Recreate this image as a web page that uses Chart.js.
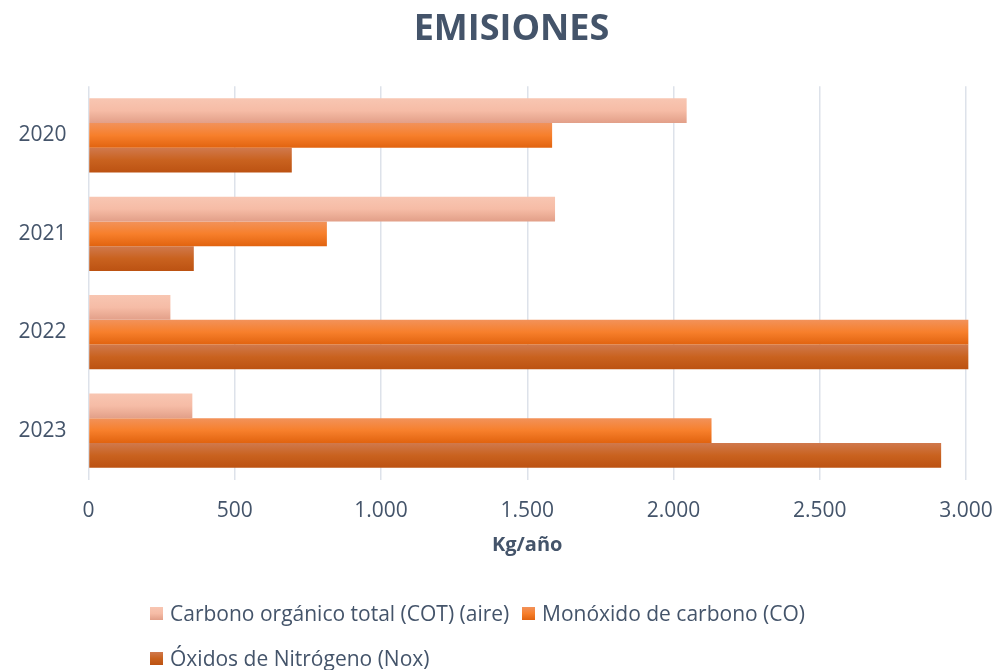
<!DOCTYPE html>
<html>
<head>
<meta charset="utf-8">
<script src="https://cdn.jsdelivr.net/npm/chart.js@4.4.1/dist/chart.umd.min.js"></script>
<style>
  html, body { margin: 0; padding: 0; background: #fff; }
  #wrap { position: relative; width: 996px; height: 670px; }
  #c { position: absolute; left: 0; top: 0; }
  #legend { position: absolute; left: 0; top: 0; width: 996px; height: 670px; pointer-events: none;
            font-family: "Open Sans", sans-serif; font-size: 21px; color: #44546A; }
  .item { position: absolute; display: flex; align-items: center; white-space: nowrap; line-height: 24px; }
  .box { width: 13px; height: 13px; margin-right: 7px; }
</style>
</head>
<body>
<div id="wrap">
  <canvas id="c" width="996" height="670"></canvas>
  <div id="legend"></div>
</div>
<script>
const categories = ["2020", "2021", "2022", "2023"];
const seriesNames = ["Carbono orgánico total (COT) (aire)", "Monóxido de carbono (CO)", "Óxidos de Nitrógeno (Nox)"];
const cotValues = [2045, 1595, 280, 355];
const coValues = [1585, 815, 3008, 2130];
const noxValues = [695, 360, 3008, 2915];
const xTicks = [0, 500, 1000, 1500, 2000, 2500, 3000];

const gradStops = [
  ["#F8C6B2", "#F6BCA6", "#E29F88"],
  ["#F2925A", "#F77F2B", "#E1630F"],
  ["#D0794D", "#C9621F", "#BC5212"]
];
const TEXT = "#44546A";

const gradientPlugin = {
  id: "barGradient",
  afterLayout(chart) {
    if (chart.titleBlock) {
      chart.titleBlock.left += 20;
      chart.titleBlock.right += 20;
    }
  },
  beforeDatasetDraw(chart, args) {
    const ctx = chart.ctx;
    const stops = gradStops[args.index];
    args.meta.data.forEach(el => {
      const p = el.getProps(["y", "height"], true);
      const top = p.y - p.height / 2;
      const g = ctx.createLinearGradient(0, top, 0, top + p.height);
      g.addColorStop(0, stops[0]);
      g.addColorStop(0.5, stops[1]);
      g.addColorStop(1, stops[2]);
      el.options = Object.assign({}, el.options, { backgroundColor: g });
    });
  }
};

function fmt(v) { return String(v).replace(/\B(?=(\d{3})+(?!\d))/g, "."); }

const seriesValues = [cotValues, coValues, noxValues];

new Chart(document.getElementById("c"), {
  type: "bar",
  data: {
    labels: categories,
    datasets: seriesValues.map((vals, i) => ({
      label: seriesNames[i],
      data: vals,
      backgroundColor: gradStops[i][1],
      borderWidth: 0,
      barPercentage: 1.0,
      categoryPercentage: 0.755,
      clip: false
    }))
  },
  options: {
    indexAxis: "y",
    responsive: false,
    animation: false,
    layout: { padding: { left: 17, right: 30, top: 0, bottom: 113 } },
    plugins: {
      legend: { display: false },
      tooltip: { enabled: false },
      title: {
        display: true,
        text: "EMISIONES",
        color: TEXT,
        font: { family: "Open Sans", size: 36, weight: "bold" },
        padding: { top: 8, bottom: 35 }
      }
    },
    scales: {
      x: {
        min: 0, max: 3000,
        afterBuildTicks(scale) { scale.ticks = xTicks.map(v => ({ value: v })); },
        afterFit(scale) { scale.paddingRight = 0; scale.paddingLeft = 0; },
        ticks: {
          color: TEXT,
          font: { family: "Open Sans", size: 21 },
          padding: 19,
          callback: v => fmt(v)
        },
        grid: { color: "#DDE2EA", lineWidth: 1.5, drawTicks: false },
        border: { display: false },
        title: {
          display: true,
          text: "Kg/año",
          color: TEXT,
          font: { family: "Open Sans", size: 20, weight: "bold" },
          padding: { top: -10, bottom: 0 }
        }
      },
      y: {
        afterFit(scale) { scale.width = 71.5; },
        ticks: {
          color: TEXT,
          font: { family: "Open Sans", size: 21 },
          padding: 22
        },
        grid: { display: false, drawTicks: false },
        border: { display: false }
      }
    }
  },
  plugins: [gradientPlugin]
});

// HTML legend
const legendPos = [
  { x: 150, y: 613 },
  { x: 522, y: 613 },
  { x: 150, y: 658 }
];
const legend = document.getElementById("legend");
seriesNames.forEach((name, i) => {
  const it = document.createElement("div");
  it.className = "item";
  it.style.left = legendPos[i].x + "px";
  it.style.top = (legendPos[i].y - 12) + "px";
  const b = document.createElement("span");
  b.className = "box";
  b.style.background = "linear-gradient(to bottom," + gradStops[i].join(",") + ")";
  const t = document.createElement("span");
  t.textContent = name;
  it.appendChild(b);
  it.appendChild(t);
  legend.appendChild(it);
});
</script>
</body>
</html>
